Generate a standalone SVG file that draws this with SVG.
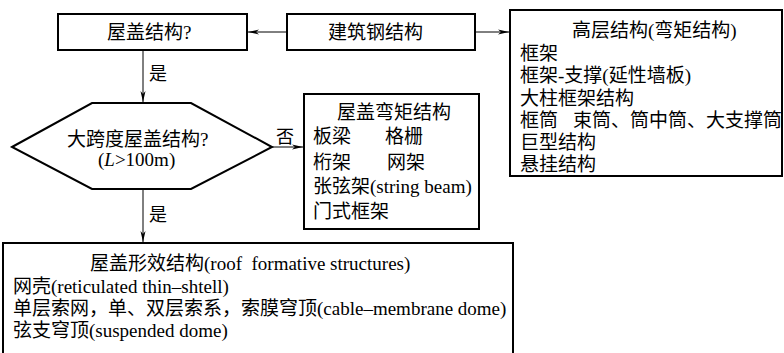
<svg xmlns="http://www.w3.org/2000/svg" width="784" height="353" viewBox="0 0 784 353">
<style>
.box{fill:#fff;stroke:#000;stroke-width:2}
.ln{fill:none;stroke:#000;stroke-width:1}
text{font-family:'Liberation Serif','Times New Roman','Noto Sans CJK SC',serif;font-size:19px;fill:#000}
.lbl{font-size:18px}
</style>
<defs>
<marker id="ah" markerUnits="userSpaceOnUse" markerWidth="12" markerHeight="6" refX="11" refY="3" orient="auto">
<path d="M0,0.5 L11,3 L0,5.5 L3,3 Z" fill="#000"/>
</marker>
</defs>
<rect width="784" height="353" fill="#fff"/>
<g id="connectors">
<line class="ln" x1="287" y1="32" x2="248" y2="32" marker-end="url(#ah)"/>
<line class="ln" x1="475" y1="32" x2="509" y2="32" marker-end="url(#ah)"/>
<line class="ln" x1="143" y1="50" x2="143" y2="102" marker-end="url(#ah)"/>
<line class="ln" x1="272" y1="147" x2="303" y2="147" marker-end="url(#ah)"/>
<line class="ln" x1="143" y1="189" x2="143" y2="242" marker-end="url(#ah)"/>
<text class="lbl" x="149" y="80">是</text>
<text class="lbl" x="149" y="221">是</text>
<text class="lbl" x="276" y="143">否</text>
</g>
<g id="roof">
<rect class="box" x="58" y="14" width="189" height="36"/>
<text x="107" y="39">屋盖结构?</text>
</g>
<g id="steel">
<rect class="box" x="287" y="14" width="188" height="36"/>
<text x="328" y="39">建筑钢结构</text>
</g>
<g id="highrise">
<rect class="box" x="510" y="10" width="272" height="166"/>
<text x="572" y="37">高层结构(弯矩结构)</text>
<text x="520" y="60">框架</text>
<text x="520" y="82">框架-支撑(延性墙板)</text>
<text x="520" y="105">大柱框架结构</text>
<text x="520" y="127">框筒<tspan x="573">束筒、筒中筒、大支撑筒</tspan></text>
<text x="520" y="149">巨型结构</text>
<text x="520" y="171">悬挂结构</text>
</g>
<g id="longspan">
<polygon class="box" points="12,147 92,103 191,103 272,147 191,189 92,189"/>
<text x="67" y="146">大跨度屋盖结构?</text>
<text x="98" y="166">(<tspan font-style="italic">L</tspan>&gt;100m)</text>
</g>
<g id="moment">
<rect class="box" x="304" y="94" width="175" height="135"/>
<text x="337" y="119">屋盖弯矩结构</text>
<text x="313" y="143">板梁</text>
<text x="385" y="143">格栅</text>
<text x="313" y="169">桁架</text>
<text x="387" y="169">网架</text>
<text x="313" y="193">张弦架(string beam)</text>
<text x="313" y="218">门式框架</text>
</g>
<g id="formative">
<rect class="box" x="3" y="243" width="510" height="120"/>
<text x="90" y="270" xml:space="preserve">屋盖形效结构(roof  formative structures)</text>
<text x="13" y="293">网壳(reticulated thin–shtell)</text>
<text x="13" y="315">单层索网，单、双层索系，索膜穹顶(cable–membrane dome)</text>
<text x="13" y="337">弦支穹顶(suspended dome)</text>
</g>
</svg>
